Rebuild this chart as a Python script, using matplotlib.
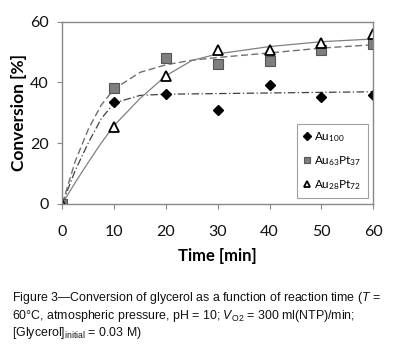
import matplotlib
matplotlib.use("Agg")
import matplotlib.pyplot as plt

plt.rcParams['mathtext.fontset'] = 'custom'
plt.rcParams['mathtext.it'] = 'Liberation Sans:italic'
plt.rcParams['mathtext.rm'] = 'Liberation Sans'

# measured data
time = [0, 10, 20, 30, 40, 50, 60]
au100 = [0, 33.5, 36.0, 31.0, 39.1, 35.1, 35.8]
au63pt37 = [0, 38.3, 48.0, 46.0, 47.0, 50.7, 52.6]
au28pt72 = [0, 25.4, 42.2, 50.7, 50.7, 52.9, 55.8]

# fitted curves
fit_t = [0, 2.5, 5, 7.5, 10, 15, 20, 25, 30, 40, 50, 60]
fit_au100 = [0, 11.0, 20.0, 28.0, 33.2, 35.7, 36.1, 36.2, 36.3, 36.5, 36.7, 36.9]
fit_au63pt37 = [0, 14.0, 24.5, 32.5, 37.8, 43.3, 45.8, 47.3, 48.2, 49.7, 51.3, 52.4]
fit_au28pt72 = [0, 7.0, 13.6, 20.0, 25.8, 34.7, 42.2, 47.2, 49.4, 51.8, 53.4, 54.3]

xticks = [0, 10, 20, 30, 40, 50, 60]
yticks = [0, 20, 40, 60]

fig = plt.figure(figsize=(4.01, 3.59), dpi=100)
ax = fig.add_axes([0.1554, 0.4326, 0.931 - 0.1554, 0.9396 - 0.4326])

ax.plot(fit_t, fit_au100, color='#404040', lw=0.9, ls=(0, (6, 2, 1, 2)))
ax.plot(fit_t, fit_au63pt37, color='#707070', lw=1.0, ls=(0, (5, 2.5)))
ax.plot(fit_t, fit_au28pt72, color='#808080', lw=0.9, ls='-')

ax.plot(time, au100, ls='none', marker='D', ms=5.5, mfc='black', mec='black',
        label='Au$\\mathregular{_{100}}$')
ax.plot(time, au63pt37, ls='none', marker='s', ms=6.5, mfc='#7f7f7f', mec='#555555',
        mew=0.8, label='Au$\\mathregular{_{63}}$Pt$\\mathregular{_{37}}$')
ax.plot(time, au28pt72, ls='none', marker='^', ms=6.5, mfc='white', mec='black',
        mew=1.3, label='Au$\\mathregular{_{28}}$Pt$\\mathregular{_{72}}$')

ax.set_xlim(0, 60)
ax.set_ylim(0, 60)
ax.set_xticks(xticks)
ax.set_yticks(yticks)
ax.tick_params(axis='both', labelsize=11.5, colors='#888888', labelcolor='#111111',
               length=3.6, width=0.8, direction='out')
ax.tick_params(axis='x', pad=12)
ax.tick_params(axis='y', pad=6.3)
for lab in ax.get_xticklabels() + ax.get_yticklabels():
    lab.set_family('Lato')
for sp in ax.spines.values():
    sp.set_color('#888888')
    sp.set_linewidth(1.0)

ax.set_xlabel('Time [min]', fontsize=12, fontweight='bold', family='Lato', labelpad=6)
ax.set_ylabel('Conversion [%]', fontsize=12.5, fontweight='bold', family='Lato', labelpad=2)

leg = ax.legend(loc='lower right', bbox_to_anchor=(1.0, 0.0), prop={'family': 'Lato', 'size': 8.5},
                frameon=True, fancybox=False, edgecolor='#888888', handlelength=0.6,
                handletextpad=0.35, labelspacing=0.85, borderpad=0.55, borderaxespad=0.45,
                markerscale=0.75)
leg.get_frame().set_linewidth(0.8)

caption = ("Figure 3\u2014Conversion of glycerol as a function of reaction time ($\\mathit{T}$ =\n"
           "60\u00b0C, atmospheric pressure, pH = 10; $\\mathit{V}$$\\mathregular{_{O2}}$ = 300 ml(NTP)/min;\n"
           "[Glycerol]$\\mathregular{_{initial}}$ = 0.03 M)")
fig.text(0.03, 1 - 290.0 / 359, caption, family='Liberation Sans', fontsize=8.9,
         va='top', ha='left', linespacing=1.15, color='#111111')

fig.savefig('out.png', dpi=100, facecolor='white')
